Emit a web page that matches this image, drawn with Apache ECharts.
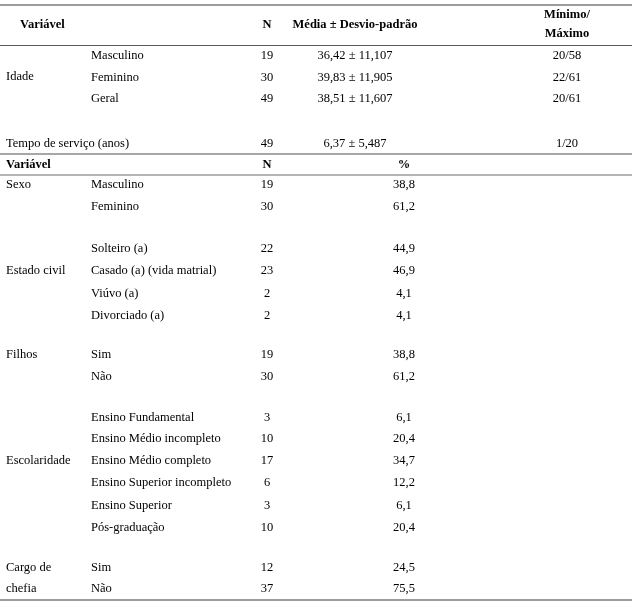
<!DOCTYPE html>
<html>
<head>
<meta charset="utf-8">
<script src="https://cdn.jsdelivr.net/npm/echarts@6/dist/echarts.min.js"></script>
<style>
html,body{margin:0;padding:0;background:#fff;}
#chart{width:632px;height:607px;}
</style>
</head>
<body>
<div id="chart"></div>
<script>
// ---------- DATA ----------
const topHeaders = ['Variável', 'N', 'Média ± Desvio-padrão', 'Mínimo/', 'Máximo'];
const idadeLabel = 'Idade';
const idadeCats = ['Masculino', 'Feminino', 'Geral'];
const idadeN = [19, 30, 49];
const idadeMean = [36.42, 39.83, 38.51];
const idadeSD = [11.107, 11.905, 11.607];
const idadeMin = [20, 22, 20];
const idadeMax = [58, 61, 61];
const tempoLabel = 'Tempo de serviço (anos)';
const tempoN = [49];
const tempoMean = [6.37];
const tempoSD = [5.487];
const tempoMin = [1];
const tempoMax = [20];

const bottomHeaders = ['Variável', 'N', '%'];
const groupNames = ['Sexo', 'Estado civil', 'Filhos', 'Escolaridade', 'Cargo de\nchefia'];
const sexoCats = ['Masculino', 'Feminino'];
const sexoN = [19, 30];
const sexoPct = [38.8, 61.2];
const civilCats = ['Solteiro (a)', 'Casado (a) (vida matrial)', 'Viúvo (a)', 'Divorciado (a)'];
const civilN = [22, 23, 2, 2];
const civilPct = [44.9, 46.9, 4.1, 4.1];
const filhosCats = ['Sim', 'Não'];
const filhosN = [19, 30];
const filhosPct = [38.8, 61.2];
const escolCats = ['Ensino Fundamental', 'Ensino Médio incompleto', 'Ensino Médio completo', 'Ensino Superior incompleto', 'Ensino Superior', 'Pós-graduação'];
const escolN = [3, 10, 17, 6, 3, 10];
const escolPct = [6.1, 20.4, 34.7, 12.2, 6.1, 20.4];
const chefiaCats = ['Sim', 'Não'];
const chefiaN = [12, 37];
const chefiaPct = [24.5, 75.5];

// ---------- LAYOUT (positions in page pixels, mapped via hidden axes) ----------
const colVar = 6, colVarTop = 20, colSub = 91, colN = 267, colMean = 355, colMinMax = 567, colPct = 404;
const yHeader = 24.5, yMin1 = 15, yMin2 = 34;
const yIdade = [56, 78, 99], yIdadeLabel = 77, yTempo = 144;
const yHeader2 = 165;
const ySexo = [185, 207];
const yCivil = [249, 271, 294, 316];
const yFilhos = [355, 377];
const yEscol = [418, 439, 461, 483, 506, 528];
const yChefia = [568, 589];
const groupLabelY = [185, 271, 355, 461, 568];

const rules = [
  {y: 5, w: 2, c: '#9c9c9c'},
  {y: 45.5, w: 1, c: '#5a5a5a'},
  {y: 154, w: 1.5, c: '#8a8a8a'},
  {y: 175, w: 2, c: '#b5b5b5'},
  {y: 600, w: 2, c: '#9c9c9c'}
];

const fmt = (v, d) => v.toFixed(d).replace('.', ',');

// build text items: [x, y, text, align, bold]
const texts = [];
const T = (x, y, s, align, bold) => texts.push([x, y, String(s), align, bold ? 1 : 0]);

T(colVarTop, yHeader, topHeaders[0], 'left', 1);
T(colN, yHeader, topHeaders[1], 'center', 1);
T(colMean, yHeader, topHeaders[2], 'center', 1);
T(colMinMax, yMin1, topHeaders[3], 'center', 1);
T(colMinMax, yMin2, topHeaders[4], 'center', 1);

T(colVar, yIdadeLabel, idadeLabel, 'left', 0);
idadeCats.forEach((c, i) => {
  T(colSub, yIdade[i], c, 'left', 0);
  T(colN, yIdade[i], idadeN[i], 'center', 0);
  T(colMean, yIdade[i], fmt(idadeMean[i], 2) + ' ± ' + fmt(idadeSD[i], 3), 'center', 0);
  T(colMinMax, yIdade[i], idadeMin[i] + '/' + idadeMax[i], 'center', 0);
});
T(colVar, yTempo, tempoLabel, 'left', 0);
T(colN, yTempo, tempoN[0], 'center', 0);
T(colMean, yTempo, fmt(tempoMean[0], 2) + ' ± ' + fmt(tempoSD[0], 3), 'center', 0);
T(colMinMax, yTempo, tempoMin[0] + '/' + tempoMax[0], 'center', 0);

T(colVar, yHeader2, bottomHeaders[0], 'left', 1);
T(colN, yHeader2, bottomHeaders[1], 'center', 1);
T(colPct, yHeader2, bottomHeaders[2], 'center', 1);

const groups = [
  [sexoCats, sexoN, sexoPct, ySexo],
  [civilCats, civilN, civilPct, yCivil],
  [filhosCats, filhosN, filhosPct, yFilhos],
  [escolCats, escolN, escolPct, yEscol],
  [chefiaCats, chefiaN, chefiaPct, yChefia]
];
groups.forEach((g, gi) => {
  const names = groupNames[gi].split('\n');
  names.forEach((nm, k) => T(colVar, k === 0 ? groupLabelY[gi] : g[3][k], nm, 'left', 0));
  g[0].forEach((c, i) => {
    T(colSub, g[3][i], c, 'left', 0);
    T(colN, g[3][i], g[1][i], 'center', 0);
    T(colPct, g[3][i], fmt(g[2][i], 1), 'center', 0);
  });
});

const FONT = "'Liberation Serif', 'Times New Roman', serif";

const chart = echarts.init(document.getElementById('chart'), null, {renderer: 'canvas'});
chart.setOption({
  animation: false,
  backgroundColor: '#ffffff',
  grid: {left: 0, right: 0, top: 0, bottom: 0},
  xAxis: {type: 'value', min: 0, max: 632, show: false},
  yAxis: {type: 'value', min: 0, max: 607, inverse: true, show: false},
  series: [
    {
      type: 'custom',
      coordinateSystem: 'cartesian2d',
      data: rules.map(r => [r.y, r.w, r.c]),
      renderItem: function (params, api) {
        const y = api.value(0);
        const p1 = api.coord([0, y]);
        const p2 = api.coord([632, y]);
        return {
          type: 'line',
          shape: {x1: p1[0], y1: p1[1], x2: p2[0], y2: p2[1]},
          style: {stroke: rules[params.dataIndex].c, lineWidth: rules[params.dataIndex].w}
        };
      }
    },
    {
      type: 'custom',
      coordinateSystem: 'cartesian2d',
      data: texts.map(t => [t[0], t[1]]),
      renderItem: function (params, api) {
        const t = texts[params.dataIndex];
        const p = api.coord([api.value(0), api.value(1)]);
        return {
          type: 'text',
          x: p[0], y: p[1],
          style: {
            text: t[2],
            fill: '#000',
            font: (t[4] ? 'bold ' : '') + '12.5px ' + FONT,
            align: t[3],
            verticalAlign: 'middle'
          }
        };
      }
    }
  ]
});
</script>
</body>
</html>
